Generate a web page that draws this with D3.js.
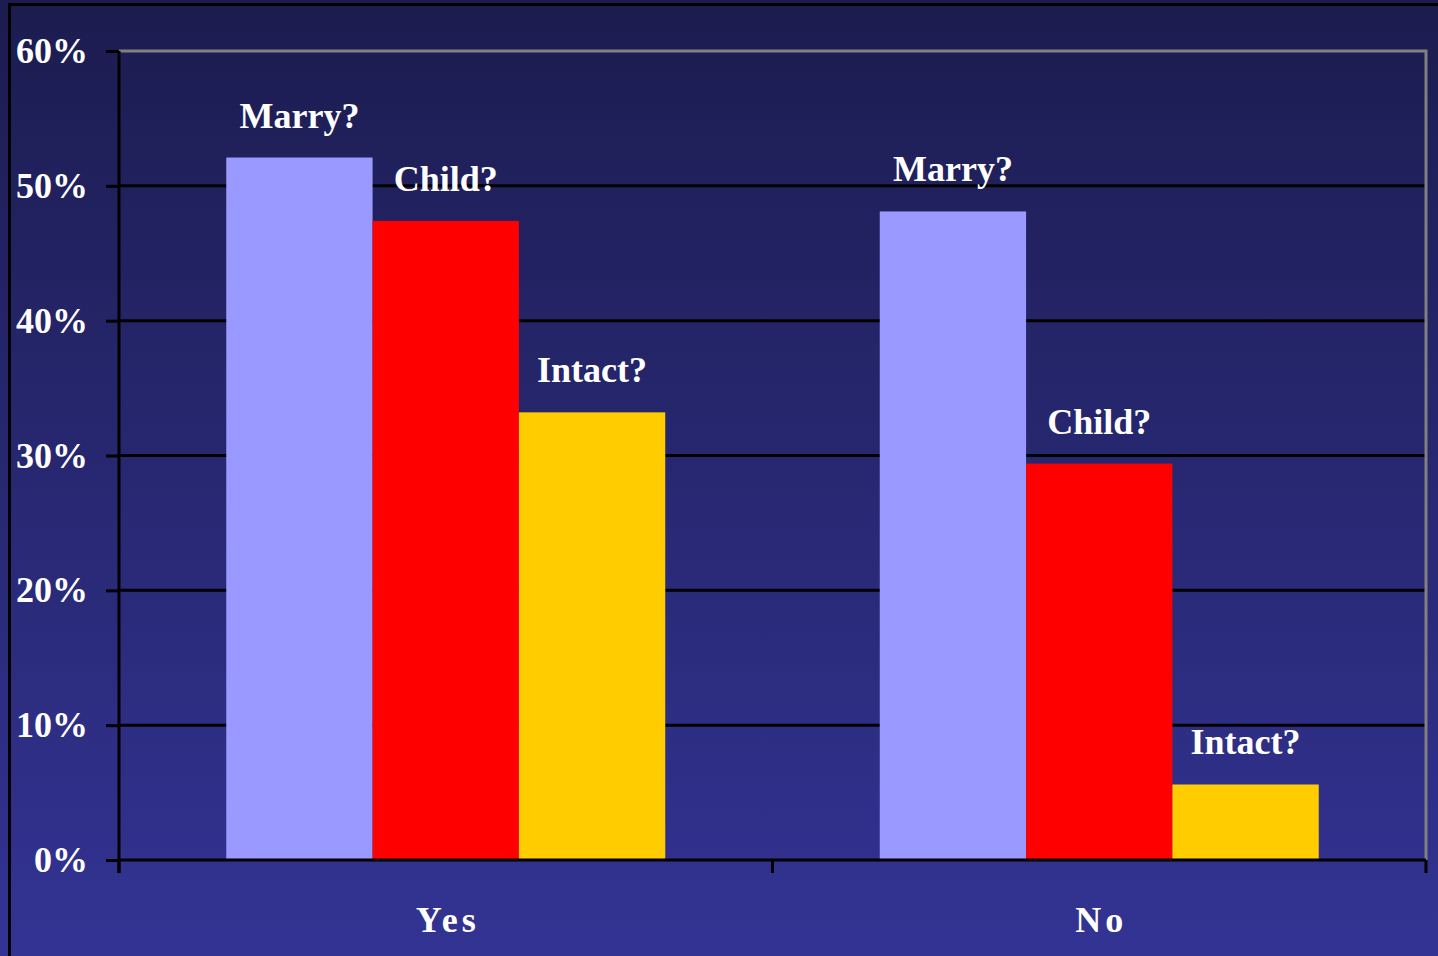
<!DOCTYPE html>
<html><head><meta charset="utf-8">
<script src="https://cdn.jsdelivr.net/npm/d3@7"></script>
<style>html,body{margin:0;padding:0;overflow:hidden;background:#1e1e55}</style>
</head><body>
<script>
const categories = ["Yes", "No"];
const seriesNames = ["Marry?", "Child?", "Intact?"];
const seriesColors = ["#9999ff", "#ff0000", "#ffcc00"];
const marryValues = [52.1, 48.1];
const childValues = [47.4, 29.4];
const intactValues = [33.2, 5.6];
const yTicks = [0, 10, 20, 30, 40, 50, 60];

(function () {
const W = 1438, H = 956;
const svg = d3.select("body").append("svg").attr("width", W).attr("height", H);
const defs = svg.append("defs");
const grad = defs.append("linearGradient").attr("id", "bg").attr("x1", 0).attr("y1", 0).attr("x2", 0).attr("y2", 1);
grad.append("stop").attr("offset", "0%").attr("stop-color", "#1c1c50");
grad.append("stop").attr("offset", "100%").attr("stop-color", "#333394");
svg.append("rect").attr("width", W).attr("height", H).attr("fill", "url(#bg)");
// slide frame
svg.append("line").attr("x1", 9.5).attr("x2", 9.5).attr("y1", 4).attr("y2", H).attr("stroke", "#000").attr("stroke-width", 3);
svg.append("line").attr("x1", 8).attr("x2", W).attr("y1", 4.5).attr("y2", 4.5).attr("stroke", "#000").attr("stroke-width", 3);

const pL = 119, pR = 1426, pT = 51, pB = 860;
const x = d3.scaleBand().domain(categories).range([pL, pR]);
const y = d3.scaleLinear().domain([0, 60]).range([pB, pT]);
const xs = d3.scaleBand().domain(seriesNames).range([0, x.bandwidth()]).paddingOuter(0.733).paddingInner(0);

const font = "'Liberation Serif', 'DejaVu Serif', serif";

// gridlines
svg.append("g").selectAll("line").data(yTicks.filter(d => d > 0 && d < 60)).join("line")
  .attr("x1", pL).attr("x2", pR).attr("y1", d => y(d)).attr("y2", d => y(d))
  .attr("stroke", "#000").attr("stroke-width", 3);
// plot border top/right gray
svg.append("path").attr("d", `M${pL},${pT}H${pR}V${pB}`).attr("fill", "none")
  .attr("stroke", "#808080").attr("stroke-width", 3);

const data = categories.map((c, i) => ({cat: c, vals: [marryValues[i], childValues[i], intactValues[i]]}));
const g = svg.append("g");
data.forEach(d => {
  d.vals.forEach((v, j) => {
    const bx = x(d.cat) + xs(seriesNames[j]);
    g.append("rect").attr("x", bx).attr("y", y(v)).attr("width", xs.bandwidth()).attr("height", y(0) - y(v))
      .attr("fill", seriesColors[j]);
    g.append("text").attr("x", bx + xs.bandwidth() / 2).attr("y", y(v) - 30)
      .attr("text-anchor", "middle").attr("fill", "#fff").attr("font-family", font)
      .attr("font-weight", "bold").attr("font-size", 36).text(seriesNames[j]);
  });
});

// y axis
const yAxis = svg.append("g").attr("transform", `translate(${pL},0)`)
  .call(d3.axisLeft(y).tickValues(yTicks).tickFormat(d => d + "%").tickSize(13).tickPadding(18));
yAxis.select(".domain").attr("stroke", "#000").attr("stroke-width", 3).attr("d", `M0,${pT}V${pB + 13}`);
yAxis.selectAll(".tick line").attr("stroke", "#000").attr("stroke-width", 3);
yAxis.selectAll(".tick text").attr("fill", "#fff").attr("font-family", font).attr("font-weight", "bold")
  .attr("font-size", 36).attr("dy", "0.32em");

// x axis
const xAxis = svg.append("g").attr("transform", `translate(0,${pB})`)
  .call(d3.axisBottom(x).tickSize(0).tickPadding(63));
xAxis.select(".domain").attr("stroke", "#000").attr("stroke-width", 3).attr("d", `M${pL},0H${pR}`);
xAxis.selectAll(".tick text").attr("fill", "#fff").attr("font-family", font).attr("font-weight", "bold")
  .attr("font-size", 36).attr("dy", "0.25em").attr("dx", "2px").style("letter-spacing", "4px");
// category boundary ticks
svg.append("g").selectAll("line").data(categories.map(c => x(c)).concat([pR])).join("line")
  .attr("x1", d => d).attr("x2", d => d).attr("y1", pB).attr("y2", pB + 13)
  .attr("stroke", "#000").attr("stroke-width", 3);
})();
</script>
</body></html>
